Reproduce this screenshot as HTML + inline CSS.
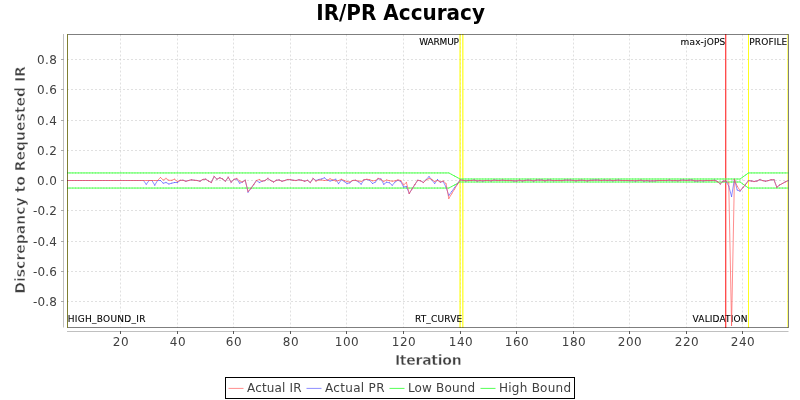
<!DOCTYPE html>
<html><head><meta charset="utf-8"><title>IR/PR Accuracy</title>
<style>
html,body{margin:0;padding:0;background:#fff;}
body{width:800px;height:400px;overflow:hidden;}
svg{display:block;font-family:"DejaVu Sans","Liberation Sans",sans-serif;}
.t{font-size:12px;fill:#404040;}
.m{font-size:9px;fill:#000;stroke:#000;stroke-width:.1px;}
.a{font-size:14px;font-weight:bold;fill:#404040;stroke:#fff;stroke-width:.4px;}
</style></head><body>
<svg width="800" height="400" viewBox="0 0 800 400">
<rect width="800" height="400" fill="#fff"/>
<text transform="translate(400.6 20) scale(1 1.07)" text-anchor="middle" font-size="20" font-weight="bold" fill="#000">IR/PR Accuracy</text>
<line x1="63.5" y1="34" x2="63.5" y2="327.5" stroke="#808080" stroke-width="0.5"/>
<line x1="67" y1="331.5" x2="788.5" y2="331.5" stroke="#808080" stroke-width="0.5"/>
<g stroke="#c0c0c0" stroke-width="0.5" stroke-dasharray="2 2">
<line x1="120.5" y1="34.5" x2="120.5" y2="327.5"/>
<line x1="177.5" y1="34.5" x2="177.5" y2="327.5"/>
<line x1="233.5" y1="34.5" x2="233.5" y2="327.5"/>
<line x1="290.5" y1="34.5" x2="290.5" y2="327.5"/>
<line x1="346.5" y1="34.5" x2="346.5" y2="327.5"/>
<line x1="403.5" y1="34.5" x2="403.5" y2="327.5"/>
<line x1="460.5" y1="34.5" x2="460.5" y2="327.5"/>
<line x1="516.5" y1="34.5" x2="516.5" y2="327.5"/>
<line x1="573.5" y1="34.5" x2="573.5" y2="327.5"/>
<line x1="629.5" y1="34.5" x2="629.5" y2="327.5"/>
<line x1="686.5" y1="34.5" x2="686.5" y2="327.5"/>
<line x1="742.5" y1="34.5" x2="742.5" y2="327.5"/>
<line x1="67" y1="59.5" x2="788" y2="59.5"/>
<line x1="67" y1="89.5" x2="788" y2="89.5"/>
<line x1="67" y1="120.5" x2="788" y2="120.5"/>
<line x1="67" y1="150.5" x2="788" y2="150.5"/>
<line x1="67" y1="180.5" x2="788" y2="180.5"/>
<line x1="67" y1="210.5" x2="788" y2="210.5"/>
<line x1="67" y1="241.5" x2="788" y2="241.5"/>
<line x1="67" y1="271.5" x2="788" y2="271.5"/>
<line x1="67" y1="301.5" x2="788" y2="301.5"/>
</g>
<g stroke="#5a5a5a" stroke-width="1">
<line x1="120.5" y1="331" x2="120.5" y2="334"/>
<line x1="177.5" y1="331" x2="177.5" y2="334"/>
<line x1="233.5" y1="331" x2="233.5" y2="334"/>
<line x1="290.5" y1="331" x2="290.5" y2="334"/>
<line x1="346.5" y1="331" x2="346.5" y2="334"/>
<line x1="403.5" y1="331" x2="403.5" y2="334"/>
<line x1="460.5" y1="331" x2="460.5" y2="334"/>
<line x1="516.5" y1="331" x2="516.5" y2="334"/>
<line x1="573.5" y1="331" x2="573.5" y2="334"/>
<line x1="629.5" y1="331" x2="629.5" y2="334"/>
<line x1="686.5" y1="331" x2="686.5" y2="334"/>
<line x1="742.5" y1="331" x2="742.5" y2="334"/>
<line x1="61" y1="59.5" x2="63.5" y2="59.5" stroke-width="0.5"/>
<line x1="61" y1="89.5" x2="63.5" y2="89.5" stroke-width="0.5"/>
<line x1="61" y1="120.5" x2="63.5" y2="120.5" stroke-width="0.5"/>
<line x1="61" y1="150.5" x2="63.5" y2="150.5" stroke-width="0.5"/>
<line x1="61" y1="180.5" x2="63.5" y2="180.5" stroke-width="0.5"/>
<line x1="61" y1="210.5" x2="63.5" y2="210.5" stroke-width="0.5"/>
<line x1="61" y1="241.5" x2="63.5" y2="241.5" stroke-width="0.5"/>
<line x1="61" y1="271.5" x2="63.5" y2="271.5" stroke-width="0.5"/>
<line x1="61" y1="301.5" x2="63.5" y2="301.5" stroke-width="0.5"/>
</g>
<text class="t" x="120.7" y="346" text-anchor="middle" textLength="16">20</text>
<text class="t" x="177.7" y="346" text-anchor="middle" textLength="16">40</text>
<text class="t" x="233.7" y="346" text-anchor="middle" textLength="16">60</text>
<text class="t" x="290.7" y="346" text-anchor="middle" textLength="16">80</text>
<text class="t" x="346.7" y="346" text-anchor="middle" textLength="24">100</text>
<text class="t" x="403.7" y="346" text-anchor="middle" textLength="24">120</text>
<text class="t" x="460.7" y="346" text-anchor="middle" textLength="24">140</text>
<text class="t" x="516.7" y="346" text-anchor="middle" textLength="24">160</text>
<text class="t" x="573.7" y="346" text-anchor="middle" textLength="24">180</text>
<text class="t" x="629.7" y="346" text-anchor="middle" textLength="24">200</text>
<text class="t" x="686.7" y="346" text-anchor="middle" textLength="24">220</text>
<text class="t" x="742.7" y="346" text-anchor="middle" textLength="24">240</text>
<text class="t" x="57" y="64.0" text-anchor="end" textLength="20">0.8</text>
<text class="t" x="57" y="94.0" text-anchor="end" textLength="20">0.6</text>
<text class="t" x="57" y="125.0" text-anchor="end" textLength="20">0.4</text>
<text class="t" x="57" y="155.0" text-anchor="end" textLength="20">0.2</text>
<text class="t" x="57" y="185.0" text-anchor="end" textLength="20">0.0</text>
<text class="t" x="57" y="215.0" text-anchor="end" textLength="24">-0.2</text>
<text class="t" x="57" y="246.0" text-anchor="end" textLength="24">-0.4</text>
<text class="t" x="57" y="276.0" text-anchor="end" textLength="24">-0.6</text>
<text class="t" x="57" y="306.0" text-anchor="end" textLength="24">-0.8</text>
<text class="a" x="428.3" y="365" text-anchor="middle" textLength="66.8">Iteration</text>
<text class="a" style="stroke-width:.5px" transform="translate(24.75 179.9) rotate(-90)" text-anchor="middle">Discrepancy to Requested IR</text>
<g fill="#ffff00">
<rect x="67" y="34" width="1" height="294" opacity="0.6"/>
<rect x="459" y="34" width="1" height="294" opacity="0.5"/>
<rect x="460" y="34" width="1" height="294" opacity="0.6"/>
<rect x="462" y="34" width="1" height="294" opacity="0.7"/>
<rect x="463" y="34" width="1" height="294" opacity="0.4"/>
<rect x="748" y="34" width="1" height="294" opacity="0.88"/>
<rect x="787" y="34" width="1" height="294" opacity="0.53"/>
</g>
<text class="m" x="67.7" y="321.6" textLength="77.8">HIGH_BOUND_IR</text>
<text class="m" x="459" y="44.5" text-anchor="end" textLength="39.7">WARMUP</text>
<text class="m" x="462.3" y="321.6" text-anchor="end" textLength="47.4">RT_CURVE</text>
<text class="m" x="747.5" y="321.6" text-anchor="end" textLength="54.9">VALIDATION</text>
<text class="m" x="787.3" y="44.6" text-anchor="end" textLength="38">PROFILE</text>
<text class="m" x="725.3" y="44.6" text-anchor="end" textLength="44.8">max-jOPS</text>
<rect x="725" y="34" width="1" height="294" fill="#ff0000" opacity="0.7"/>
<rect x="726" y="34" width="1" height="294" fill="#ff0000" opacity="0.25"/>
<clipPath id="c"><rect x="67" y="34" width="721.5" height="293.5"/></clipPath>
<g clip-path="url(#c)" stroke-width="1" stroke-linecap="square" fill="none">
<g stroke="#55ff55">
<line x1="67.10" y1="172.94" x2="69.93" y2="172.94"/>
<line x1="69.93" y1="172.94" x2="72.75" y2="172.94"/>
<line x1="72.75" y1="172.94" x2="75.58" y2="172.94"/>
<line x1="75.58" y1="172.94" x2="78.41" y2="172.94"/>
<line x1="78.41" y1="172.94" x2="81.24" y2="172.94"/>
<line x1="81.24" y1="172.94" x2="84.06" y2="172.94"/>
<line x1="84.06" y1="172.94" x2="86.89" y2="172.94"/>
<line x1="86.89" y1="172.94" x2="89.72" y2="172.94"/>
<line x1="89.72" y1="172.94" x2="92.55" y2="172.94"/>
<line x1="92.55" y1="172.94" x2="95.38" y2="172.94"/>
<line x1="95.38" y1="172.94" x2="98.20" y2="172.94"/>
<line x1="98.20" y1="172.94" x2="101.03" y2="172.94"/>
<line x1="101.03" y1="172.94" x2="103.86" y2="172.94"/>
<line x1="103.86" y1="172.94" x2="106.69" y2="172.94"/>
<line x1="106.69" y1="172.94" x2="109.51" y2="172.94"/>
<line x1="109.51" y1="172.94" x2="112.34" y2="172.94"/>
<line x1="112.34" y1="172.94" x2="115.17" y2="172.94"/>
<line x1="115.17" y1="172.94" x2="118.00" y2="172.94"/>
<line x1="118.00" y1="172.94" x2="120.82" y2="172.94"/>
<line x1="120.82" y1="172.94" x2="123.65" y2="172.94"/>
<line x1="123.65" y1="172.94" x2="126.48" y2="172.94"/>
<line x1="126.48" y1="172.94" x2="129.31" y2="172.94"/>
<line x1="129.31" y1="172.94" x2="132.13" y2="172.94"/>
<line x1="132.13" y1="172.94" x2="134.96" y2="172.94"/>
<line x1="134.96" y1="172.94" x2="137.79" y2="172.94"/>
<line x1="137.79" y1="172.94" x2="140.62" y2="172.94"/>
<line x1="140.62" y1="172.94" x2="143.44" y2="172.94"/>
<line x1="143.44" y1="172.94" x2="146.27" y2="172.94"/>
<line x1="146.27" y1="172.94" x2="149.10" y2="172.94"/>
<line x1="149.10" y1="172.94" x2="151.93" y2="172.94"/>
<line x1="151.93" y1="172.94" x2="154.75" y2="172.94"/>
<line x1="154.75" y1="172.94" x2="157.58" y2="172.94"/>
<line x1="157.58" y1="172.94" x2="160.41" y2="172.94"/>
<line x1="160.41" y1="172.94" x2="163.24" y2="172.94"/>
<line x1="163.24" y1="172.94" x2="166.06" y2="172.94"/>
<line x1="166.06" y1="172.94" x2="168.89" y2="172.94"/>
<line x1="168.89" y1="172.94" x2="171.72" y2="172.94"/>
<line x1="171.72" y1="172.94" x2="174.55" y2="172.94"/>
<line x1="174.55" y1="172.94" x2="177.37" y2="172.94"/>
<line x1="177.37" y1="172.94" x2="180.20" y2="172.94"/>
<line x1="180.20" y1="172.94" x2="183.03" y2="172.94"/>
<line x1="183.03" y1="172.94" x2="185.86" y2="172.94"/>
<line x1="185.86" y1="172.94" x2="188.68" y2="172.94"/>
<line x1="188.68" y1="172.94" x2="191.51" y2="172.94"/>
<line x1="191.51" y1="172.94" x2="194.34" y2="172.94"/>
<line x1="194.34" y1="172.94" x2="197.16" y2="172.94"/>
<line x1="197.16" y1="172.94" x2="199.99" y2="172.94"/>
<line x1="199.99" y1="172.94" x2="202.82" y2="172.94"/>
<line x1="202.82" y1="172.94" x2="205.65" y2="172.94"/>
<line x1="205.65" y1="172.94" x2="208.47" y2="172.94"/>
<line x1="208.47" y1="172.94" x2="211.30" y2="172.94"/>
<line x1="211.30" y1="172.94" x2="214.13" y2="172.94"/>
<line x1="214.13" y1="172.94" x2="216.96" y2="172.94"/>
<line x1="216.96" y1="172.94" x2="219.78" y2="172.94"/>
<line x1="219.78" y1="172.94" x2="222.61" y2="172.94"/>
<line x1="222.61" y1="172.94" x2="225.44" y2="172.94"/>
<line x1="225.44" y1="172.94" x2="228.27" y2="172.94"/>
<line x1="228.27" y1="172.94" x2="231.09" y2="172.94"/>
<line x1="231.09" y1="172.94" x2="233.92" y2="172.94"/>
<line x1="233.92" y1="172.94" x2="236.75" y2="172.94"/>
<line x1="236.75" y1="172.94" x2="239.58" y2="172.94"/>
<line x1="239.58" y1="172.94" x2="242.41" y2="172.94"/>
<line x1="242.41" y1="172.94" x2="245.23" y2="172.94"/>
<line x1="245.23" y1="172.94" x2="248.06" y2="172.94"/>
<line x1="248.06" y1="172.94" x2="250.89" y2="172.94"/>
<line x1="250.89" y1="172.94" x2="253.72" y2="172.94"/>
<line x1="253.72" y1="172.94" x2="256.54" y2="172.94"/>
<line x1="256.54" y1="172.94" x2="259.37" y2="172.94"/>
<line x1="259.37" y1="172.94" x2="262.20" y2="172.94"/>
<line x1="262.20" y1="172.94" x2="265.02" y2="172.94"/>
<line x1="265.02" y1="172.94" x2="267.85" y2="172.94"/>
<line x1="267.85" y1="172.94" x2="270.68" y2="172.94"/>
<line x1="270.68" y1="172.94" x2="273.51" y2="172.94"/>
<line x1="273.51" y1="172.94" x2="276.34" y2="172.94"/>
<line x1="276.34" y1="172.94" x2="279.16" y2="172.94"/>
<line x1="279.16" y1="172.94" x2="281.99" y2="172.94"/>
<line x1="281.99" y1="172.94" x2="284.82" y2="172.94"/>
<line x1="284.82" y1="172.94" x2="287.64" y2="172.94"/>
<line x1="287.64" y1="172.94" x2="290.47" y2="172.94"/>
<line x1="290.47" y1="172.94" x2="293.30" y2="172.94"/>
<line x1="293.30" y1="172.94" x2="296.13" y2="172.94"/>
<line x1="296.13" y1="172.94" x2="298.96" y2="172.94"/>
<line x1="298.96" y1="172.94" x2="301.78" y2="172.94"/>
<line x1="301.78" y1="172.94" x2="304.61" y2="172.94"/>
<line x1="304.61" y1="172.94" x2="307.44" y2="172.94"/>
<line x1="307.44" y1="172.94" x2="310.26" y2="172.94"/>
<line x1="310.26" y1="172.94" x2="313.09" y2="172.94"/>
<line x1="313.09" y1="172.94" x2="315.92" y2="172.94"/>
<line x1="315.92" y1="172.94" x2="318.75" y2="172.94"/>
<line x1="318.75" y1="172.94" x2="321.58" y2="172.94"/>
<line x1="321.58" y1="172.94" x2="324.40" y2="172.94"/>
<line x1="324.40" y1="172.94" x2="327.23" y2="172.94"/>
<line x1="327.23" y1="172.94" x2="330.06" y2="172.94"/>
<line x1="330.06" y1="172.94" x2="332.88" y2="172.94"/>
<line x1="332.88" y1="172.94" x2="335.71" y2="172.94"/>
<line x1="335.71" y1="172.94" x2="338.54" y2="172.94"/>
<line x1="338.54" y1="172.94" x2="341.37" y2="172.94"/>
<line x1="341.37" y1="172.94" x2="344.20" y2="172.94"/>
<line x1="344.20" y1="172.94" x2="347.02" y2="172.94"/>
<line x1="347.02" y1="172.94" x2="349.85" y2="172.94"/>
<line x1="349.85" y1="172.94" x2="352.68" y2="172.94"/>
<line x1="352.68" y1="172.94" x2="355.50" y2="172.94"/>
<line x1="355.50" y1="172.94" x2="358.33" y2="172.94"/>
<line x1="358.33" y1="172.94" x2="361.16" y2="172.94"/>
<line x1="361.16" y1="172.94" x2="363.99" y2="172.94"/>
<line x1="363.99" y1="172.94" x2="366.82" y2="172.94"/>
<line x1="366.82" y1="172.94" x2="369.64" y2="172.94"/>
<line x1="369.64" y1="172.94" x2="372.47" y2="172.94"/>
<line x1="372.47" y1="172.94" x2="375.30" y2="172.94"/>
<line x1="375.30" y1="172.94" x2="378.12" y2="172.94"/>
<line x1="378.12" y1="172.94" x2="380.95" y2="172.94"/>
<line x1="380.95" y1="172.94" x2="383.78" y2="172.94"/>
<line x1="383.78" y1="172.94" x2="386.61" y2="172.94"/>
<line x1="386.61" y1="172.94" x2="389.44" y2="172.94"/>
<line x1="389.44" y1="172.94" x2="392.26" y2="172.94"/>
<line x1="392.26" y1="172.94" x2="395.09" y2="172.94"/>
<line x1="395.09" y1="172.94" x2="397.92" y2="172.94"/>
<line x1="397.92" y1="172.94" x2="400.75" y2="172.94"/>
<line x1="400.75" y1="172.94" x2="403.57" y2="172.94"/>
<line x1="403.57" y1="172.94" x2="406.40" y2="172.94"/>
<line x1="406.40" y1="172.94" x2="409.23" y2="172.94"/>
<line x1="409.23" y1="172.94" x2="412.06" y2="172.94"/>
<line x1="412.06" y1="172.94" x2="414.88" y2="172.94"/>
<line x1="414.88" y1="172.94" x2="417.71" y2="172.94"/>
<line x1="417.71" y1="172.94" x2="420.54" y2="172.94"/>
<line x1="420.54" y1="172.94" x2="423.37" y2="172.94"/>
<line x1="423.37" y1="172.94" x2="426.19" y2="172.94"/>
<line x1="426.19" y1="172.94" x2="429.02" y2="172.94"/>
<line x1="429.02" y1="172.94" x2="431.85" y2="172.94"/>
<line x1="431.85" y1="172.94" x2="434.67" y2="172.94"/>
<line x1="434.67" y1="172.94" x2="437.50" y2="172.94"/>
<line x1="437.50" y1="172.94" x2="440.33" y2="172.94"/>
<line x1="440.33" y1="172.94" x2="443.16" y2="172.94"/>
<line x1="443.16" y1="172.94" x2="445.99" y2="172.94"/>
<line x1="445.99" y1="172.94" x2="448.81" y2="172.94"/>
<line x1="448.81" y1="172.94" x2="451.64" y2="174.46"/>
<line x1="451.64" y1="174.46" x2="454.47" y2="175.97"/>
<line x1="454.47" y1="175.97" x2="457.29" y2="177.49"/>
<line x1="457.29" y1="177.49" x2="460.12" y2="179.00"/>
<line x1="460.12" y1="179.00" x2="462.95" y2="179.00"/>
<line x1="462.95" y1="179.00" x2="465.78" y2="179.00"/>
<line x1="465.78" y1="179.00" x2="468.61" y2="179.00"/>
<line x1="468.61" y1="179.00" x2="471.43" y2="179.00"/>
<line x1="471.43" y1="179.00" x2="474.26" y2="179.00"/>
<line x1="474.26" y1="179.00" x2="477.09" y2="179.00"/>
<line x1="477.09" y1="179.00" x2="479.91" y2="179.00"/>
<line x1="479.91" y1="179.00" x2="482.74" y2="179.00"/>
<line x1="482.74" y1="179.00" x2="485.57" y2="179.00"/>
<line x1="485.57" y1="179.00" x2="488.40" y2="179.00"/>
<line x1="488.40" y1="179.00" x2="491.23" y2="179.00"/>
<line x1="491.23" y1="179.00" x2="494.05" y2="179.00"/>
<line x1="494.05" y1="179.00" x2="496.88" y2="179.00"/>
<line x1="496.88" y1="179.00" x2="499.71" y2="179.00"/>
<line x1="499.71" y1="179.00" x2="502.53" y2="179.00"/>
<line x1="502.53" y1="179.00" x2="505.36" y2="179.00"/>
<line x1="505.36" y1="179.00" x2="508.19" y2="179.00"/>
<line x1="508.19" y1="179.00" x2="511.02" y2="179.00"/>
<line x1="511.02" y1="179.00" x2="513.85" y2="179.00"/>
<line x1="513.85" y1="179.00" x2="516.67" y2="179.00"/>
<line x1="516.67" y1="179.00" x2="519.50" y2="179.00"/>
<line x1="519.50" y1="179.00" x2="522.33" y2="179.00"/>
<line x1="522.33" y1="179.00" x2="525.15" y2="179.00"/>
<line x1="525.15" y1="179.00" x2="527.98" y2="179.00"/>
<line x1="527.98" y1="179.00" x2="530.81" y2="179.00"/>
<line x1="530.81" y1="179.00" x2="533.64" y2="179.00"/>
<line x1="533.64" y1="179.00" x2="536.47" y2="179.00"/>
<line x1="536.47" y1="179.00" x2="539.29" y2="179.00"/>
<line x1="539.29" y1="179.00" x2="542.12" y2="179.00"/>
<line x1="542.12" y1="179.00" x2="544.95" y2="179.00"/>
<line x1="544.95" y1="179.00" x2="547.77" y2="179.00"/>
<line x1="547.77" y1="179.00" x2="550.60" y2="179.00"/>
<line x1="550.60" y1="179.00" x2="553.43" y2="179.00"/>
<line x1="553.43" y1="179.00" x2="556.26" y2="179.00"/>
<line x1="556.26" y1="179.00" x2="559.09" y2="179.00"/>
<line x1="559.09" y1="179.00" x2="561.91" y2="179.00"/>
<line x1="561.91" y1="179.00" x2="564.74" y2="179.00"/>
<line x1="564.74" y1="179.00" x2="567.57" y2="179.00"/>
<line x1="567.57" y1="179.00" x2="570.39" y2="179.00"/>
<line x1="570.39" y1="179.00" x2="573.22" y2="179.00"/>
<line x1="573.22" y1="179.00" x2="576.05" y2="179.00"/>
<line x1="576.05" y1="179.00" x2="578.88" y2="179.00"/>
<line x1="578.88" y1="179.00" x2="581.71" y2="179.00"/>
<line x1="581.71" y1="179.00" x2="584.53" y2="179.00"/>
<line x1="584.53" y1="179.00" x2="587.36" y2="179.00"/>
<line x1="587.36" y1="179.00" x2="590.19" y2="179.00"/>
<line x1="590.19" y1="179.00" x2="593.02" y2="179.00"/>
<line x1="593.02" y1="179.00" x2="595.84" y2="179.00"/>
<line x1="595.84" y1="179.00" x2="598.67" y2="179.00"/>
<line x1="598.67" y1="179.00" x2="601.50" y2="179.00"/>
<line x1="601.50" y1="179.00" x2="604.33" y2="179.00"/>
<line x1="604.33" y1="179.00" x2="607.15" y2="179.00"/>
<line x1="607.15" y1="179.00" x2="609.98" y2="179.00"/>
<line x1="609.98" y1="179.00" x2="612.81" y2="179.00"/>
<line x1="612.81" y1="179.00" x2="615.63" y2="179.00"/>
<line x1="615.63" y1="179.00" x2="618.46" y2="179.00"/>
<line x1="618.46" y1="179.00" x2="621.29" y2="179.00"/>
<line x1="621.29" y1="179.00" x2="624.12" y2="179.00"/>
<line x1="624.12" y1="179.00" x2="626.95" y2="179.00"/>
<line x1="626.95" y1="179.00" x2="629.77" y2="179.00"/>
<line x1="629.77" y1="179.00" x2="632.60" y2="179.00"/>
<line x1="632.60" y1="179.00" x2="635.43" y2="179.00"/>
<line x1="635.43" y1="179.00" x2="638.25" y2="179.00"/>
<line x1="638.25" y1="179.00" x2="641.08" y2="179.00"/>
<line x1="641.08" y1="179.00" x2="643.91" y2="179.00"/>
<line x1="643.91" y1="179.00" x2="646.74" y2="179.00"/>
<line x1="646.74" y1="179.00" x2="649.57" y2="179.00"/>
<line x1="649.57" y1="179.00" x2="652.39" y2="179.00"/>
<line x1="652.39" y1="179.00" x2="655.22" y2="179.00"/>
<line x1="655.22" y1="179.00" x2="658.05" y2="179.00"/>
<line x1="658.05" y1="179.00" x2="660.88" y2="179.00"/>
<line x1="660.88" y1="179.00" x2="663.70" y2="179.00"/>
<line x1="663.70" y1="179.00" x2="666.53" y2="179.00"/>
<line x1="666.53" y1="179.00" x2="669.36" y2="179.00"/>
<line x1="669.36" y1="179.00" x2="672.19" y2="179.00"/>
<line x1="672.19" y1="179.00" x2="675.01" y2="179.00"/>
<line x1="675.01" y1="179.00" x2="677.84" y2="179.00"/>
<line x1="677.84" y1="179.00" x2="680.67" y2="179.00"/>
<line x1="680.67" y1="179.00" x2="683.50" y2="179.00"/>
<line x1="683.50" y1="179.00" x2="686.32" y2="179.00"/>
<line x1="686.32" y1="179.00" x2="689.15" y2="179.00"/>
<line x1="689.15" y1="179.00" x2="691.98" y2="179.00"/>
<line x1="691.98" y1="179.00" x2="694.81" y2="179.00"/>
<line x1="694.81" y1="179.00" x2="697.63" y2="179.00"/>
<line x1="697.63" y1="179.00" x2="700.46" y2="179.00"/>
<line x1="700.46" y1="179.00" x2="703.29" y2="179.00"/>
<line x1="703.29" y1="179.00" x2="706.12" y2="179.00"/>
<line x1="706.12" y1="179.00" x2="708.94" y2="179.00"/>
<line x1="708.94" y1="179.00" x2="711.77" y2="179.00"/>
<line x1="711.77" y1="179.00" x2="714.60" y2="179.00"/>
<line x1="714.60" y1="179.00" x2="717.43" y2="179.00"/>
<line x1="717.43" y1="179.00" x2="720.25" y2="179.00"/>
<line x1="720.25" y1="179.00" x2="723.08" y2="179.00"/>
<line x1="723.08" y1="179.00" x2="725.91" y2="179.00"/>
<line x1="725.91" y1="179.00" x2="728.74" y2="179.00"/>
<line x1="728.74" y1="179.00" x2="731.56" y2="179.00"/>
<line x1="731.56" y1="179.00" x2="734.39" y2="179.00"/>
<line x1="734.39" y1="179.00" x2="737.22" y2="179.00"/>
<line x1="737.22" y1="179.00" x2="740.05" y2="179.00"/>
<line x1="740.05" y1="179.00" x2="742.87" y2="176.98"/>
<line x1="742.87" y1="176.98" x2="745.70" y2="174.96"/>
<line x1="745.70" y1="174.96" x2="748.53" y2="172.94"/>
<line x1="748.53" y1="172.94" x2="751.36" y2="172.94"/>
<line x1="751.36" y1="172.94" x2="754.18" y2="172.94"/>
<line x1="754.18" y1="172.94" x2="757.01" y2="172.94"/>
<line x1="757.01" y1="172.94" x2="759.84" y2="172.94"/>
<line x1="759.84" y1="172.94" x2="762.67" y2="172.94"/>
<line x1="762.67" y1="172.94" x2="765.49" y2="172.94"/>
<line x1="765.49" y1="172.94" x2="768.32" y2="172.94"/>
<line x1="768.32" y1="172.94" x2="771.15" y2="172.94"/>
<line x1="771.15" y1="172.94" x2="773.98" y2="172.94"/>
<line x1="773.98" y1="172.94" x2="776.80" y2="172.94"/>
<line x1="776.80" y1="172.94" x2="779.63" y2="172.94"/>
<line x1="779.63" y1="172.94" x2="782.46" y2="172.94"/>
<line x1="782.46" y1="172.94" x2="785.29" y2="172.94"/>
<line x1="785.29" y1="172.94" x2="788.11" y2="172.94"/>
</g>
<g stroke="#55ff55">
<line x1="67.10" y1="188.06" x2="69.93" y2="188.06"/>
<line x1="69.93" y1="188.06" x2="72.75" y2="188.06"/>
<line x1="72.75" y1="188.06" x2="75.58" y2="188.06"/>
<line x1="75.58" y1="188.06" x2="78.41" y2="188.06"/>
<line x1="78.41" y1="188.06" x2="81.24" y2="188.06"/>
<line x1="81.24" y1="188.06" x2="84.06" y2="188.06"/>
<line x1="84.06" y1="188.06" x2="86.89" y2="188.06"/>
<line x1="86.89" y1="188.06" x2="89.72" y2="188.06"/>
<line x1="89.72" y1="188.06" x2="92.55" y2="188.06"/>
<line x1="92.55" y1="188.06" x2="95.38" y2="188.06"/>
<line x1="95.38" y1="188.06" x2="98.20" y2="188.06"/>
<line x1="98.20" y1="188.06" x2="101.03" y2="188.06"/>
<line x1="101.03" y1="188.06" x2="103.86" y2="188.06"/>
<line x1="103.86" y1="188.06" x2="106.69" y2="188.06"/>
<line x1="106.69" y1="188.06" x2="109.51" y2="188.06"/>
<line x1="109.51" y1="188.06" x2="112.34" y2="188.06"/>
<line x1="112.34" y1="188.06" x2="115.17" y2="188.06"/>
<line x1="115.17" y1="188.06" x2="118.00" y2="188.06"/>
<line x1="118.00" y1="188.06" x2="120.82" y2="188.06"/>
<line x1="120.82" y1="188.06" x2="123.65" y2="188.06"/>
<line x1="123.65" y1="188.06" x2="126.48" y2="188.06"/>
<line x1="126.48" y1="188.06" x2="129.31" y2="188.06"/>
<line x1="129.31" y1="188.06" x2="132.13" y2="188.06"/>
<line x1="132.13" y1="188.06" x2="134.96" y2="188.06"/>
<line x1="134.96" y1="188.06" x2="137.79" y2="188.06"/>
<line x1="137.79" y1="188.06" x2="140.62" y2="188.06"/>
<line x1="140.62" y1="188.06" x2="143.44" y2="188.06"/>
<line x1="143.44" y1="188.06" x2="146.27" y2="188.06"/>
<line x1="146.27" y1="188.06" x2="149.10" y2="188.06"/>
<line x1="149.10" y1="188.06" x2="151.93" y2="188.06"/>
<line x1="151.93" y1="188.06" x2="154.75" y2="188.06"/>
<line x1="154.75" y1="188.06" x2="157.58" y2="188.06"/>
<line x1="157.58" y1="188.06" x2="160.41" y2="188.06"/>
<line x1="160.41" y1="188.06" x2="163.24" y2="188.06"/>
<line x1="163.24" y1="188.06" x2="166.06" y2="188.06"/>
<line x1="166.06" y1="188.06" x2="168.89" y2="188.06"/>
<line x1="168.89" y1="188.06" x2="171.72" y2="188.06"/>
<line x1="171.72" y1="188.06" x2="174.55" y2="188.06"/>
<line x1="174.55" y1="188.06" x2="177.37" y2="188.06"/>
<line x1="177.37" y1="188.06" x2="180.20" y2="188.06"/>
<line x1="180.20" y1="188.06" x2="183.03" y2="188.06"/>
<line x1="183.03" y1="188.06" x2="185.86" y2="188.06"/>
<line x1="185.86" y1="188.06" x2="188.68" y2="188.06"/>
<line x1="188.68" y1="188.06" x2="191.51" y2="188.06"/>
<line x1="191.51" y1="188.06" x2="194.34" y2="188.06"/>
<line x1="194.34" y1="188.06" x2="197.16" y2="188.06"/>
<line x1="197.16" y1="188.06" x2="199.99" y2="188.06"/>
<line x1="199.99" y1="188.06" x2="202.82" y2="188.06"/>
<line x1="202.82" y1="188.06" x2="205.65" y2="188.06"/>
<line x1="205.65" y1="188.06" x2="208.47" y2="188.06"/>
<line x1="208.47" y1="188.06" x2="211.30" y2="188.06"/>
<line x1="211.30" y1="188.06" x2="214.13" y2="188.06"/>
<line x1="214.13" y1="188.06" x2="216.96" y2="188.06"/>
<line x1="216.96" y1="188.06" x2="219.78" y2="188.06"/>
<line x1="219.78" y1="188.06" x2="222.61" y2="188.06"/>
<line x1="222.61" y1="188.06" x2="225.44" y2="188.06"/>
<line x1="225.44" y1="188.06" x2="228.27" y2="188.06"/>
<line x1="228.27" y1="188.06" x2="231.09" y2="188.06"/>
<line x1="231.09" y1="188.06" x2="233.92" y2="188.06"/>
<line x1="233.92" y1="188.06" x2="236.75" y2="188.06"/>
<line x1="236.75" y1="188.06" x2="239.58" y2="188.06"/>
<line x1="239.58" y1="188.06" x2="242.41" y2="188.06"/>
<line x1="242.41" y1="188.06" x2="245.23" y2="188.06"/>
<line x1="245.23" y1="188.06" x2="248.06" y2="188.06"/>
<line x1="248.06" y1="188.06" x2="250.89" y2="188.06"/>
<line x1="250.89" y1="188.06" x2="253.72" y2="188.06"/>
<line x1="253.72" y1="188.06" x2="256.54" y2="188.06"/>
<line x1="256.54" y1="188.06" x2="259.37" y2="188.06"/>
<line x1="259.37" y1="188.06" x2="262.20" y2="188.06"/>
<line x1="262.20" y1="188.06" x2="265.02" y2="188.06"/>
<line x1="265.02" y1="188.06" x2="267.85" y2="188.06"/>
<line x1="267.85" y1="188.06" x2="270.68" y2="188.06"/>
<line x1="270.68" y1="188.06" x2="273.51" y2="188.06"/>
<line x1="273.51" y1="188.06" x2="276.34" y2="188.06"/>
<line x1="276.34" y1="188.06" x2="279.16" y2="188.06"/>
<line x1="279.16" y1="188.06" x2="281.99" y2="188.06"/>
<line x1="281.99" y1="188.06" x2="284.82" y2="188.06"/>
<line x1="284.82" y1="188.06" x2="287.64" y2="188.06"/>
<line x1="287.64" y1="188.06" x2="290.47" y2="188.06"/>
<line x1="290.47" y1="188.06" x2="293.30" y2="188.06"/>
<line x1="293.30" y1="188.06" x2="296.13" y2="188.06"/>
<line x1="296.13" y1="188.06" x2="298.96" y2="188.06"/>
<line x1="298.96" y1="188.06" x2="301.78" y2="188.06"/>
<line x1="301.78" y1="188.06" x2="304.61" y2="188.06"/>
<line x1="304.61" y1="188.06" x2="307.44" y2="188.06"/>
<line x1="307.44" y1="188.06" x2="310.26" y2="188.06"/>
<line x1="310.26" y1="188.06" x2="313.09" y2="188.06"/>
<line x1="313.09" y1="188.06" x2="315.92" y2="188.06"/>
<line x1="315.92" y1="188.06" x2="318.75" y2="188.06"/>
<line x1="318.75" y1="188.06" x2="321.58" y2="188.06"/>
<line x1="321.58" y1="188.06" x2="324.40" y2="188.06"/>
<line x1="324.40" y1="188.06" x2="327.23" y2="188.06"/>
<line x1="327.23" y1="188.06" x2="330.06" y2="188.06"/>
<line x1="330.06" y1="188.06" x2="332.88" y2="188.06"/>
<line x1="332.88" y1="188.06" x2="335.71" y2="188.06"/>
<line x1="335.71" y1="188.06" x2="338.54" y2="188.06"/>
<line x1="338.54" y1="188.06" x2="341.37" y2="188.06"/>
<line x1="341.37" y1="188.06" x2="344.20" y2="188.06"/>
<line x1="344.20" y1="188.06" x2="347.02" y2="188.06"/>
<line x1="347.02" y1="188.06" x2="349.85" y2="188.06"/>
<line x1="349.85" y1="188.06" x2="352.68" y2="188.06"/>
<line x1="352.68" y1="188.06" x2="355.50" y2="188.06"/>
<line x1="355.50" y1="188.06" x2="358.33" y2="188.06"/>
<line x1="358.33" y1="188.06" x2="361.16" y2="188.06"/>
<line x1="361.16" y1="188.06" x2="363.99" y2="188.06"/>
<line x1="363.99" y1="188.06" x2="366.82" y2="188.06"/>
<line x1="366.82" y1="188.06" x2="369.64" y2="188.06"/>
<line x1="369.64" y1="188.06" x2="372.47" y2="188.06"/>
<line x1="372.47" y1="188.06" x2="375.30" y2="188.06"/>
<line x1="375.30" y1="188.06" x2="378.12" y2="188.06"/>
<line x1="378.12" y1="188.06" x2="380.95" y2="188.06"/>
<line x1="380.95" y1="188.06" x2="383.78" y2="188.06"/>
<line x1="383.78" y1="188.06" x2="386.61" y2="188.06"/>
<line x1="386.61" y1="188.06" x2="389.44" y2="188.06"/>
<line x1="389.44" y1="188.06" x2="392.26" y2="188.06"/>
<line x1="392.26" y1="188.06" x2="395.09" y2="188.06"/>
<line x1="395.09" y1="188.06" x2="397.92" y2="188.06"/>
<line x1="397.92" y1="188.06" x2="400.75" y2="188.06"/>
<line x1="400.75" y1="188.06" x2="403.57" y2="188.06"/>
<line x1="403.57" y1="188.06" x2="406.40" y2="188.06"/>
<line x1="406.40" y1="188.06" x2="409.23" y2="188.06"/>
<line x1="409.23" y1="188.06" x2="412.06" y2="188.06"/>
<line x1="412.06" y1="188.06" x2="414.88" y2="188.06"/>
<line x1="414.88" y1="188.06" x2="417.71" y2="188.06"/>
<line x1="417.71" y1="188.06" x2="420.54" y2="188.06"/>
<line x1="420.54" y1="188.06" x2="423.37" y2="188.06"/>
<line x1="423.37" y1="188.06" x2="426.19" y2="188.06"/>
<line x1="426.19" y1="188.06" x2="429.02" y2="188.06"/>
<line x1="429.02" y1="188.06" x2="431.85" y2="188.06"/>
<line x1="431.85" y1="188.06" x2="434.67" y2="188.06"/>
<line x1="434.67" y1="188.06" x2="437.50" y2="188.06"/>
<line x1="437.50" y1="188.06" x2="440.33" y2="188.06"/>
<line x1="440.33" y1="188.06" x2="443.16" y2="188.06"/>
<line x1="443.16" y1="188.06" x2="445.99" y2="188.06"/>
<line x1="445.99" y1="188.06" x2="448.81" y2="188.06"/>
<line x1="448.81" y1="188.06" x2="451.64" y2="186.54"/>
<line x1="451.64" y1="186.54" x2="454.47" y2="185.03"/>
<line x1="454.47" y1="185.03" x2="457.29" y2="183.51"/>
<line x1="457.29" y1="183.51" x2="460.12" y2="182.00"/>
<line x1="460.12" y1="182.00" x2="462.95" y2="182.00"/>
<line x1="462.95" y1="182.00" x2="465.78" y2="182.00"/>
<line x1="465.78" y1="182.00" x2="468.61" y2="182.00"/>
<line x1="468.61" y1="182.00" x2="471.43" y2="182.00"/>
<line x1="471.43" y1="182.00" x2="474.26" y2="182.00"/>
<line x1="474.26" y1="182.00" x2="477.09" y2="182.00"/>
<line x1="477.09" y1="182.00" x2="479.91" y2="182.00"/>
<line x1="479.91" y1="182.00" x2="482.74" y2="182.00"/>
<line x1="482.74" y1="182.00" x2="485.57" y2="182.00"/>
<line x1="485.57" y1="182.00" x2="488.40" y2="182.00"/>
<line x1="488.40" y1="182.00" x2="491.23" y2="182.00"/>
<line x1="491.23" y1="182.00" x2="494.05" y2="182.00"/>
<line x1="494.05" y1="182.00" x2="496.88" y2="182.00"/>
<line x1="496.88" y1="182.00" x2="499.71" y2="182.00"/>
<line x1="499.71" y1="182.00" x2="502.53" y2="182.00"/>
<line x1="502.53" y1="182.00" x2="505.36" y2="182.00"/>
<line x1="505.36" y1="182.00" x2="508.19" y2="182.00"/>
<line x1="508.19" y1="182.00" x2="511.02" y2="182.00"/>
<line x1="511.02" y1="182.00" x2="513.85" y2="182.00"/>
<line x1="513.85" y1="182.00" x2="516.67" y2="182.00"/>
<line x1="516.67" y1="182.00" x2="519.50" y2="182.00"/>
<line x1="519.50" y1="182.00" x2="522.33" y2="182.00"/>
<line x1="522.33" y1="182.00" x2="525.15" y2="182.00"/>
<line x1="525.15" y1="182.00" x2="527.98" y2="182.00"/>
<line x1="527.98" y1="182.00" x2="530.81" y2="182.00"/>
<line x1="530.81" y1="182.00" x2="533.64" y2="182.00"/>
<line x1="533.64" y1="182.00" x2="536.47" y2="182.00"/>
<line x1="536.47" y1="182.00" x2="539.29" y2="182.00"/>
<line x1="539.29" y1="182.00" x2="542.12" y2="182.00"/>
<line x1="542.12" y1="182.00" x2="544.95" y2="182.00"/>
<line x1="544.95" y1="182.00" x2="547.77" y2="182.00"/>
<line x1="547.77" y1="182.00" x2="550.60" y2="182.00"/>
<line x1="550.60" y1="182.00" x2="553.43" y2="182.00"/>
<line x1="553.43" y1="182.00" x2="556.26" y2="182.00"/>
<line x1="556.26" y1="182.00" x2="559.09" y2="182.00"/>
<line x1="559.09" y1="182.00" x2="561.91" y2="182.00"/>
<line x1="561.91" y1="182.00" x2="564.74" y2="182.00"/>
<line x1="564.74" y1="182.00" x2="567.57" y2="182.00"/>
<line x1="567.57" y1="182.00" x2="570.39" y2="182.00"/>
<line x1="570.39" y1="182.00" x2="573.22" y2="182.00"/>
<line x1="573.22" y1="182.00" x2="576.05" y2="182.00"/>
<line x1="576.05" y1="182.00" x2="578.88" y2="182.00"/>
<line x1="578.88" y1="182.00" x2="581.71" y2="182.00"/>
<line x1="581.71" y1="182.00" x2="584.53" y2="182.00"/>
<line x1="584.53" y1="182.00" x2="587.36" y2="182.00"/>
<line x1="587.36" y1="182.00" x2="590.19" y2="182.00"/>
<line x1="590.19" y1="182.00" x2="593.02" y2="182.00"/>
<line x1="593.02" y1="182.00" x2="595.84" y2="182.00"/>
<line x1="595.84" y1="182.00" x2="598.67" y2="182.00"/>
<line x1="598.67" y1="182.00" x2="601.50" y2="182.00"/>
<line x1="601.50" y1="182.00" x2="604.33" y2="182.00"/>
<line x1="604.33" y1="182.00" x2="607.15" y2="182.00"/>
<line x1="607.15" y1="182.00" x2="609.98" y2="182.00"/>
<line x1="609.98" y1="182.00" x2="612.81" y2="182.00"/>
<line x1="612.81" y1="182.00" x2="615.63" y2="182.00"/>
<line x1="615.63" y1="182.00" x2="618.46" y2="182.00"/>
<line x1="618.46" y1="182.00" x2="621.29" y2="182.00"/>
<line x1="621.29" y1="182.00" x2="624.12" y2="182.00"/>
<line x1="624.12" y1="182.00" x2="626.95" y2="182.00"/>
<line x1="626.95" y1="182.00" x2="629.77" y2="182.00"/>
<line x1="629.77" y1="182.00" x2="632.60" y2="182.00"/>
<line x1="632.60" y1="182.00" x2="635.43" y2="182.00"/>
<line x1="635.43" y1="182.00" x2="638.25" y2="182.00"/>
<line x1="638.25" y1="182.00" x2="641.08" y2="182.00"/>
<line x1="641.08" y1="182.00" x2="643.91" y2="182.00"/>
<line x1="643.91" y1="182.00" x2="646.74" y2="182.00"/>
<line x1="646.74" y1="182.00" x2="649.57" y2="182.00"/>
<line x1="649.57" y1="182.00" x2="652.39" y2="182.00"/>
<line x1="652.39" y1="182.00" x2="655.22" y2="182.00"/>
<line x1="655.22" y1="182.00" x2="658.05" y2="182.00"/>
<line x1="658.05" y1="182.00" x2="660.88" y2="182.00"/>
<line x1="660.88" y1="182.00" x2="663.70" y2="182.00"/>
<line x1="663.70" y1="182.00" x2="666.53" y2="182.00"/>
<line x1="666.53" y1="182.00" x2="669.36" y2="182.00"/>
<line x1="669.36" y1="182.00" x2="672.19" y2="182.00"/>
<line x1="672.19" y1="182.00" x2="675.01" y2="182.00"/>
<line x1="675.01" y1="182.00" x2="677.84" y2="182.00"/>
<line x1="677.84" y1="182.00" x2="680.67" y2="182.00"/>
<line x1="680.67" y1="182.00" x2="683.50" y2="182.00"/>
<line x1="683.50" y1="182.00" x2="686.32" y2="182.00"/>
<line x1="686.32" y1="182.00" x2="689.15" y2="182.00"/>
<line x1="689.15" y1="182.00" x2="691.98" y2="182.00"/>
<line x1="691.98" y1="182.00" x2="694.81" y2="182.00"/>
<line x1="694.81" y1="182.00" x2="697.63" y2="182.00"/>
<line x1="697.63" y1="182.00" x2="700.46" y2="182.00"/>
<line x1="700.46" y1="182.00" x2="703.29" y2="182.00"/>
<line x1="703.29" y1="182.00" x2="706.12" y2="182.00"/>
<line x1="706.12" y1="182.00" x2="708.94" y2="182.00"/>
<line x1="708.94" y1="182.00" x2="711.77" y2="182.00"/>
<line x1="711.77" y1="182.00" x2="714.60" y2="182.00"/>
<line x1="714.60" y1="182.00" x2="717.43" y2="182.00"/>
<line x1="717.43" y1="182.00" x2="720.25" y2="182.00"/>
<line x1="720.25" y1="182.00" x2="723.08" y2="182.00"/>
<line x1="723.08" y1="182.00" x2="725.91" y2="182.00"/>
<line x1="725.91" y1="182.00" x2="728.74" y2="182.00"/>
<line x1="728.74" y1="182.00" x2="731.56" y2="182.00"/>
<line x1="731.56" y1="182.00" x2="734.39" y2="182.00"/>
<line x1="734.39" y1="182.00" x2="737.22" y2="182.00"/>
<line x1="737.22" y1="182.00" x2="740.05" y2="182.00"/>
<line x1="740.05" y1="182.00" x2="742.87" y2="184.02"/>
<line x1="742.87" y1="184.02" x2="745.70" y2="186.04"/>
<line x1="745.70" y1="186.04" x2="748.53" y2="188.06"/>
<line x1="748.53" y1="188.06" x2="751.36" y2="188.06"/>
<line x1="751.36" y1="188.06" x2="754.18" y2="188.06"/>
<line x1="754.18" y1="188.06" x2="757.01" y2="188.06"/>
<line x1="757.01" y1="188.06" x2="759.84" y2="188.06"/>
<line x1="759.84" y1="188.06" x2="762.67" y2="188.06"/>
<line x1="762.67" y1="188.06" x2="765.49" y2="188.06"/>
<line x1="765.49" y1="188.06" x2="768.32" y2="188.06"/>
<line x1="768.32" y1="188.06" x2="771.15" y2="188.06"/>
<line x1="771.15" y1="188.06" x2="773.98" y2="188.06"/>
<line x1="773.98" y1="188.06" x2="776.80" y2="188.06"/>
<line x1="776.80" y1="188.06" x2="779.63" y2="188.06"/>
<line x1="779.63" y1="188.06" x2="782.46" y2="188.06"/>
<line x1="782.46" y1="188.06" x2="785.29" y2="188.06"/>
<line x1="785.29" y1="188.06" x2="788.11" y2="188.06"/>
</g>
<g stroke="#5555ff" stroke-opacity=".67">
<line x1="67.10" y1="180.50" x2="69.93" y2="180.50"/>
<line x1="69.93" y1="180.50" x2="72.75" y2="180.50"/>
<line x1="72.75" y1="180.50" x2="75.58" y2="180.50"/>
<line x1="75.58" y1="180.50" x2="78.41" y2="180.50"/>
<line x1="78.41" y1="180.50" x2="81.24" y2="180.50"/>
<line x1="81.24" y1="180.50" x2="84.06" y2="180.50"/>
<line x1="84.06" y1="180.50" x2="86.89" y2="180.50"/>
<line x1="86.89" y1="180.50" x2="89.72" y2="180.50"/>
<line x1="89.72" y1="180.50" x2="92.55" y2="180.50"/>
<line x1="92.55" y1="180.50" x2="95.38" y2="180.50"/>
<line x1="95.38" y1="180.50" x2="98.20" y2="180.50"/>
<line x1="98.20" y1="180.50" x2="101.03" y2="180.50"/>
<line x1="101.03" y1="180.50" x2="103.86" y2="180.50"/>
<line x1="103.86" y1="180.50" x2="106.69" y2="180.50"/>
<line x1="106.69" y1="180.50" x2="109.51" y2="180.50"/>
<line x1="109.51" y1="180.50" x2="112.34" y2="180.50"/>
<line x1="112.34" y1="180.50" x2="115.17" y2="180.50"/>
<line x1="115.17" y1="180.50" x2="118.00" y2="180.50"/>
<line x1="118.00" y1="180.50" x2="120.82" y2="180.50"/>
<line x1="120.82" y1="180.50" x2="123.65" y2="180.50"/>
<line x1="123.65" y1="180.50" x2="126.48" y2="180.50"/>
<line x1="126.48" y1="180.50" x2="129.31" y2="180.50"/>
<line x1="129.31" y1="180.50" x2="132.13" y2="180.50"/>
<line x1="132.13" y1="180.50" x2="134.96" y2="180.50"/>
<line x1="134.96" y1="180.50" x2="137.79" y2="180.50"/>
<line x1="137.79" y1="180.50" x2="140.62" y2="180.50"/>
<line x1="140.62" y1="180.50" x2="143.44" y2="180.50"/>
<line x1="143.44" y1="180.50" x2="146.27" y2="184.30"/>
<line x1="146.27" y1="184.30" x2="149.10" y2="180.50"/>
<line x1="149.10" y1="180.50" x2="151.93" y2="180.50"/>
<line x1="151.93" y1="180.50" x2="154.75" y2="185.20"/>
<line x1="154.75" y1="185.20" x2="157.58" y2="180.50"/>
<line x1="157.58" y1="180.50" x2="160.41" y2="180.50"/>
<line x1="160.41" y1="180.50" x2="163.24" y2="183.20"/>
<line x1="163.24" y1="183.20" x2="166.06" y2="182.50"/>
<line x1="166.06" y1="182.50" x2="168.89" y2="184.00"/>
<line x1="168.89" y1="184.00" x2="171.72" y2="183.20"/>
<line x1="171.72" y1="183.20" x2="174.55" y2="182.50"/>
<line x1="174.55" y1="182.50" x2="177.37" y2="182.50"/>
<line x1="177.37" y1="182.50" x2="180.20" y2="180.50"/>
<line x1="180.20" y1="180.50" x2="183.03" y2="180.30"/>
<line x1="183.03" y1="180.30" x2="185.86" y2="181.20"/>
<line x1="185.86" y1="181.20" x2="188.68" y2="180.50"/>
<line x1="188.68" y1="180.50" x2="191.51" y2="179.80"/>
<line x1="191.51" y1="179.80" x2="194.34" y2="180.30"/>
<line x1="194.34" y1="180.30" x2="197.16" y2="180.50"/>
<line x1="197.16" y1="180.50" x2="199.99" y2="181.20"/>
<line x1="199.99" y1="181.20" x2="202.82" y2="179.50"/>
<line x1="202.82" y1="179.50" x2="205.65" y2="179.20"/>
<line x1="205.65" y1="179.20" x2="208.47" y2="181.00"/>
<line x1="208.47" y1="181.00" x2="211.30" y2="182.50"/>
<line x1="211.30" y1="182.50" x2="214.13" y2="176.50"/>
<line x1="214.13" y1="176.50" x2="216.96" y2="179.20"/>
<line x1="216.96" y1="179.20" x2="219.78" y2="177.80"/>
<line x1="219.78" y1="177.80" x2="222.61" y2="179.00"/>
<line x1="222.61" y1="179.00" x2="225.44" y2="181.20"/>
<line x1="225.44" y1="181.20" x2="228.27" y2="177.20"/>
<line x1="228.27" y1="177.20" x2="231.09" y2="182.20"/>
<line x1="231.09" y1="182.20" x2="233.92" y2="179.50"/>
<line x1="233.92" y1="179.50" x2="236.75" y2="179.00"/>
<line x1="236.75" y1="179.00" x2="239.58" y2="183.20"/>
<line x1="239.58" y1="183.20" x2="242.41" y2="182.00"/>
<line x1="242.41" y1="182.00" x2="245.23" y2="180.30"/>
<line x1="245.23" y1="180.30" x2="248.06" y2="192.20"/>
<line x1="248.06" y1="192.20" x2="250.89" y2="188.50"/>
<line x1="250.89" y1="188.50" x2="253.72" y2="184.50"/>
<line x1="253.72" y1="184.50" x2="256.54" y2="180.50"/>
<line x1="256.54" y1="180.50" x2="259.37" y2="182.50"/>
<line x1="259.37" y1="182.50" x2="262.20" y2="181.20"/>
<line x1="262.20" y1="181.20" x2="265.02" y2="180.50"/>
<line x1="265.02" y1="180.50" x2="267.85" y2="178.50"/>
<line x1="267.85" y1="178.50" x2="270.68" y2="180.50"/>
<line x1="270.68" y1="180.50" x2="273.51" y2="182.00"/>
<line x1="273.51" y1="182.00" x2="276.34" y2="180.30"/>
<line x1="276.34" y1="180.30" x2="279.16" y2="180.00"/>
<line x1="279.16" y1="180.00" x2="281.99" y2="181.20"/>
<line x1="281.99" y1="181.20" x2="284.82" y2="180.50"/>
<line x1="284.82" y1="180.50" x2="287.64" y2="179.50"/>
<line x1="287.64" y1="179.50" x2="290.47" y2="179.70"/>
<line x1="290.47" y1="179.70" x2="293.30" y2="180.30"/>
<line x1="293.30" y1="180.30" x2="296.13" y2="180.50"/>
<line x1="296.13" y1="180.50" x2="298.96" y2="179.80"/>
<line x1="298.96" y1="179.80" x2="301.78" y2="180.30"/>
<line x1="301.78" y1="180.30" x2="304.61" y2="181.20"/>
<line x1="304.61" y1="181.20" x2="307.44" y2="180.30"/>
<line x1="307.44" y1="180.30" x2="310.26" y2="182.50"/>
<line x1="310.26" y1="182.50" x2="313.09" y2="178.50"/>
<line x1="313.09" y1="178.50" x2="315.92" y2="180.50"/>
<line x1="315.92" y1="180.50" x2="318.75" y2="179.50"/>
<line x1="318.75" y1="179.50" x2="321.58" y2="179.00"/>
<line x1="321.58" y1="179.00" x2="324.40" y2="177.80"/>
<line x1="324.40" y1="177.80" x2="327.23" y2="180.00"/>
<line x1="327.23" y1="180.00" x2="330.06" y2="181.00"/>
<line x1="330.06" y1="181.00" x2="332.88" y2="180.30"/>
<line x1="332.88" y1="180.30" x2="335.71" y2="179.20"/>
<line x1="335.71" y1="179.20" x2="338.54" y2="183.70"/>
<line x1="338.54" y1="183.70" x2="341.37" y2="179.80"/>
<line x1="341.37" y1="179.80" x2="344.20" y2="181.50"/>
<line x1="344.20" y1="181.50" x2="347.02" y2="183.50"/>
<line x1="347.02" y1="183.50" x2="349.85" y2="182.80"/>
<line x1="349.85" y1="182.80" x2="352.68" y2="180.50"/>
<line x1="352.68" y1="180.50" x2="355.50" y2="180.30"/>
<line x1="355.50" y1="180.30" x2="358.33" y2="181.80"/>
<line x1="358.33" y1="181.80" x2="361.16" y2="184.20"/>
<line x1="361.16" y1="184.20" x2="363.99" y2="179.80"/>
<line x1="363.99" y1="179.80" x2="366.82" y2="179.50"/>
<line x1="366.82" y1="179.50" x2="369.64" y2="180.30"/>
<line x1="369.64" y1="180.30" x2="372.47" y2="183.50"/>
<line x1="372.47" y1="183.50" x2="375.30" y2="182.20"/>
<line x1="375.30" y1="182.20" x2="378.12" y2="178.80"/>
<line x1="378.12" y1="178.80" x2="380.95" y2="179.00"/>
<line x1="380.95" y1="179.00" x2="383.78" y2="184.30"/>
<line x1="383.78" y1="184.30" x2="386.61" y2="182.20"/>
<line x1="386.61" y1="182.20" x2="389.44" y2="182.80"/>
<line x1="389.44" y1="182.80" x2="392.26" y2="185.30"/>
<line x1="392.26" y1="185.30" x2="395.09" y2="182.00"/>
<line x1="395.09" y1="182.00" x2="397.92" y2="180.30"/>
<line x1="397.92" y1="180.30" x2="400.75" y2="181.50"/>
<line x1="400.75" y1="181.50" x2="403.57" y2="187.00"/>
<line x1="403.57" y1="187.00" x2="406.40" y2="186.50"/>
<line x1="406.40" y1="186.50" x2="409.23" y2="193.50"/>
<line x1="409.23" y1="193.50" x2="412.06" y2="189.00"/>
<line x1="412.06" y1="189.00" x2="414.88" y2="184.50"/>
<line x1="414.88" y1="184.50" x2="417.71" y2="180.30"/>
<line x1="417.71" y1="180.30" x2="420.54" y2="180.80"/>
<line x1="420.54" y1="180.80" x2="423.37" y2="182.50"/>
<line x1="423.37" y1="182.50" x2="426.19" y2="179.50"/>
<line x1="426.19" y1="179.50" x2="429.02" y2="176.50"/>
<line x1="429.02" y1="176.50" x2="431.85" y2="180.00"/>
<line x1="431.85" y1="180.00" x2="434.67" y2="183.50"/>
<line x1="434.67" y1="183.50" x2="437.50" y2="179.50"/>
<line x1="437.50" y1="179.50" x2="440.33" y2="182.20"/>
<line x1="440.33" y1="182.20" x2="443.16" y2="181.50"/>
<line x1="443.16" y1="181.50" x2="445.99" y2="187.00"/>
<line x1="445.99" y1="187.00" x2="448.81" y2="195.50"/>
<line x1="448.81" y1="195.50" x2="451.64" y2="191.62"/>
<line x1="451.64" y1="191.62" x2="454.47" y2="187.75"/>
<line x1="454.47" y1="187.75" x2="457.29" y2="183.88"/>
<line x1="457.29" y1="183.88" x2="460.12" y2="180.00"/>
<line x1="460.12" y1="180.00" x2="462.95" y2="180.35"/>
<line x1="462.95" y1="180.35" x2="465.78" y2="180.80"/>
<line x1="465.78" y1="180.80" x2="468.61" y2="180.40"/>
<line x1="468.61" y1="180.40" x2="471.43" y2="180.50"/>
<line x1="471.43" y1="180.50" x2="474.26" y2="180.15"/>
<line x1="474.26" y1="180.15" x2="477.09" y2="180.90"/>
<line x1="477.09" y1="180.90" x2="479.91" y2="180.50"/>
<line x1="479.91" y1="180.50" x2="482.74" y2="180.90"/>
<line x1="482.74" y1="180.90" x2="485.57" y2="180.50"/>
<line x1="485.57" y1="180.50" x2="488.40" y2="180.40"/>
<line x1="488.40" y1="180.40" x2="491.23" y2="180.80"/>
<line x1="491.23" y1="180.80" x2="494.05" y2="180.15"/>
<line x1="494.05" y1="180.15" x2="496.88" y2="180.40"/>
<line x1="496.88" y1="180.40" x2="499.71" y2="180.40"/>
<line x1="499.71" y1="180.40" x2="502.53" y2="180.25"/>
<line x1="502.53" y1="180.25" x2="505.36" y2="180.50"/>
<line x1="505.36" y1="180.50" x2="508.19" y2="180.40"/>
<line x1="508.19" y1="180.40" x2="511.02" y2="180.50"/>
<line x1="511.02" y1="180.50" x2="513.85" y2="180.80"/>
<line x1="513.85" y1="180.80" x2="516.67" y2="180.90"/>
<line x1="516.67" y1="180.90" x2="519.50" y2="180.15"/>
<line x1="519.50" y1="180.15" x2="522.33" y2="180.90"/>
<line x1="522.33" y1="180.90" x2="525.15" y2="180.40"/>
<line x1="525.15" y1="180.40" x2="527.98" y2="180.15"/>
<line x1="527.98" y1="180.15" x2="530.81" y2="180.35"/>
<line x1="530.81" y1="180.35" x2="533.64" y2="180.90"/>
<line x1="533.64" y1="180.90" x2="536.47" y2="180.15"/>
<line x1="536.47" y1="180.15" x2="539.29" y2="180.15"/>
<line x1="539.29" y1="180.15" x2="542.12" y2="180.10"/>
<line x1="542.12" y1="180.10" x2="544.95" y2="180.80"/>
<line x1="544.95" y1="180.80" x2="547.77" y2="180.10"/>
<line x1="547.77" y1="180.10" x2="550.60" y2="180.20"/>
<line x1="550.60" y1="180.20" x2="553.43" y2="180.65"/>
<line x1="553.43" y1="180.65" x2="556.26" y2="180.50"/>
<line x1="556.26" y1="180.50" x2="559.09" y2="180.40"/>
<line x1="559.09" y1="180.40" x2="561.91" y2="180.55"/>
<line x1="561.91" y1="180.55" x2="564.74" y2="180.20"/>
<line x1="564.74" y1="180.20" x2="567.57" y2="180.20"/>
<line x1="567.57" y1="180.20" x2="570.39" y2="180.15"/>
<line x1="570.39" y1="180.15" x2="573.22" y2="180.40"/>
<line x1="573.22" y1="180.40" x2="576.05" y2="180.80"/>
<line x1="576.05" y1="180.80" x2="578.88" y2="180.35"/>
<line x1="578.88" y1="180.35" x2="581.71" y2="180.30"/>
<line x1="581.71" y1="180.30" x2="584.53" y2="180.50"/>
<line x1="584.53" y1="180.50" x2="587.36" y2="180.80"/>
<line x1="587.36" y1="180.80" x2="590.19" y2="180.35"/>
<line x1="590.19" y1="180.35" x2="593.02" y2="180.25"/>
<line x1="593.02" y1="180.25" x2="595.84" y2="180.10"/>
<line x1="595.84" y1="180.10" x2="598.67" y2="180.20"/>
<line x1="598.67" y1="180.20" x2="601.50" y2="180.50"/>
<line x1="601.50" y1="180.50" x2="604.33" y2="180.20"/>
<line x1="604.33" y1="180.20" x2="607.15" y2="180.50"/>
<line x1="607.15" y1="180.50" x2="609.98" y2="180.25"/>
<line x1="609.98" y1="180.25" x2="612.81" y2="180.75"/>
<line x1="612.81" y1="180.75" x2="615.63" y2="180.35"/>
<line x1="615.63" y1="180.35" x2="618.46" y2="180.20"/>
<line x1="618.46" y1="180.20" x2="621.29" y2="180.40"/>
<line x1="621.29" y1="180.40" x2="624.12" y2="180.60"/>
<line x1="624.12" y1="180.60" x2="626.95" y2="180.50"/>
<line x1="626.95" y1="180.50" x2="629.77" y2="180.65"/>
<line x1="629.77" y1="180.65" x2="632.60" y2="180.60"/>
<line x1="632.60" y1="180.60" x2="635.43" y2="180.90"/>
<line x1="635.43" y1="180.90" x2="638.25" y2="180.50"/>
<line x1="638.25" y1="180.50" x2="641.08" y2="180.30"/>
<line x1="641.08" y1="180.30" x2="643.91" y2="180.90"/>
<line x1="643.91" y1="180.90" x2="646.74" y2="180.60"/>
<line x1="646.74" y1="180.60" x2="649.57" y2="180.90"/>
<line x1="649.57" y1="180.90" x2="652.39" y2="180.80"/>
<line x1="652.39" y1="180.80" x2="655.22" y2="180.80"/>
<line x1="655.22" y1="180.80" x2="658.05" y2="180.50"/>
<line x1="658.05" y1="180.50" x2="660.88" y2="180.50"/>
<line x1="660.88" y1="180.50" x2="663.70" y2="180.50"/>
<line x1="663.70" y1="180.50" x2="666.53" y2="180.60"/>
<line x1="666.53" y1="180.60" x2="669.36" y2="180.15"/>
<line x1="669.36" y1="180.15" x2="672.19" y2="180.65"/>
<line x1="672.19" y1="180.65" x2="675.01" y2="180.50"/>
<line x1="675.01" y1="180.50" x2="677.84" y2="180.70"/>
<line x1="677.84" y1="180.70" x2="680.67" y2="180.25"/>
<line x1="680.67" y1="180.25" x2="683.50" y2="180.15"/>
<line x1="683.50" y1="180.15" x2="686.32" y2="180.40"/>
<line x1="686.32" y1="180.40" x2="689.15" y2="180.15"/>
<line x1="689.15" y1="180.15" x2="691.98" y2="180.10"/>
<line x1="691.98" y1="180.10" x2="694.81" y2="180.90"/>
<line x1="694.81" y1="180.90" x2="697.63" y2="180.90"/>
<line x1="697.63" y1="180.90" x2="700.46" y2="180.60"/>
<line x1="700.46" y1="180.60" x2="703.29" y2="180.80"/>
<line x1="703.29" y1="180.80" x2="706.12" y2="180.50"/>
<line x1="706.12" y1="180.50" x2="708.94" y2="180.60"/>
<line x1="708.94" y1="180.60" x2="711.77" y2="180.50"/>
<line x1="711.77" y1="180.50" x2="714.60" y2="180.25"/>
<line x1="714.60" y1="180.25" x2="717.43" y2="181.50"/>
<line x1="717.43" y1="181.50" x2="720.25" y2="184.00"/>
<line x1="720.25" y1="184.00" x2="723.08" y2="181.20"/>
<line x1="723.08" y1="181.20" x2="725.91" y2="181.20"/>
<line x1="725.91" y1="181.20" x2="728.74" y2="186.00"/>
<line x1="728.74" y1="186.00" x2="731.56" y2="196.50"/>
<line x1="731.56" y1="196.50" x2="734.39" y2="179.40"/>
<line x1="734.39" y1="179.40" x2="737.22" y2="190.00"/>
<line x1="737.22" y1="190.00" x2="740.05" y2="191.20"/>
<line x1="740.05" y1="191.20" x2="742.87" y2="187.70"/>
<line x1="742.87" y1="187.70" x2="745.70" y2="184.20"/>
<line x1="745.70" y1="184.20" x2="748.53" y2="180.60"/>
<line x1="748.53" y1="180.60" x2="751.36" y2="181.00"/>
<line x1="751.36" y1="181.00" x2="754.18" y2="181.50"/>
<line x1="754.18" y1="181.50" x2="757.01" y2="181.00"/>
<line x1="757.01" y1="181.00" x2="759.84" y2="179.60"/>
<line x1="759.84" y1="179.60" x2="762.67" y2="180.60"/>
<line x1="762.67" y1="180.60" x2="765.49" y2="181.20"/>
<line x1="765.49" y1="181.20" x2="768.32" y2="180.60"/>
<line x1="768.32" y1="180.60" x2="771.15" y2="179.75"/>
<line x1="771.15" y1="179.75" x2="773.98" y2="179.75"/>
<line x1="773.98" y1="179.75" x2="776.80" y2="187.25"/>
<line x1="776.80" y1="187.25" x2="779.63" y2="185.00"/>
<line x1="779.63" y1="185.00" x2="782.46" y2="183.50"/>
<line x1="782.46" y1="183.50" x2="785.29" y2="181.90"/>
<line x1="785.29" y1="181.90" x2="788.11" y2="180.60"/>
</g>
<g stroke="#ff5555" stroke-opacity=".67">
<line x1="67.10" y1="180.50" x2="69.93" y2="180.50"/>
<line x1="69.93" y1="180.50" x2="72.75" y2="180.50"/>
<line x1="72.75" y1="180.50" x2="75.58" y2="180.50"/>
<line x1="75.58" y1="180.50" x2="78.41" y2="180.50"/>
<line x1="78.41" y1="180.50" x2="81.24" y2="180.50"/>
<line x1="81.24" y1="180.50" x2="84.06" y2="180.50"/>
<line x1="84.06" y1="180.50" x2="86.89" y2="180.50"/>
<line x1="86.89" y1="180.50" x2="89.72" y2="180.50"/>
<line x1="89.72" y1="180.50" x2="92.55" y2="180.50"/>
<line x1="92.55" y1="180.50" x2="95.38" y2="180.50"/>
<line x1="95.38" y1="180.50" x2="98.20" y2="180.50"/>
<line x1="98.20" y1="180.50" x2="101.03" y2="180.50"/>
<line x1="101.03" y1="180.50" x2="103.86" y2="180.50"/>
<line x1="103.86" y1="180.50" x2="106.69" y2="180.50"/>
<line x1="106.69" y1="180.50" x2="109.51" y2="180.50"/>
<line x1="109.51" y1="180.50" x2="112.34" y2="180.50"/>
<line x1="112.34" y1="180.50" x2="115.17" y2="180.50"/>
<line x1="115.17" y1="180.50" x2="118.00" y2="180.50"/>
<line x1="118.00" y1="180.50" x2="120.82" y2="180.50"/>
<line x1="120.82" y1="180.50" x2="123.65" y2="180.50"/>
<line x1="123.65" y1="180.50" x2="126.48" y2="180.50"/>
<line x1="126.48" y1="180.50" x2="129.31" y2="180.50"/>
<line x1="129.31" y1="180.50" x2="132.13" y2="180.50"/>
<line x1="132.13" y1="180.50" x2="134.96" y2="180.50"/>
<line x1="134.96" y1="180.50" x2="137.79" y2="180.50"/>
<line x1="137.79" y1="180.50" x2="140.62" y2="180.50"/>
<line x1="140.62" y1="180.50" x2="143.44" y2="180.50"/>
<line x1="143.44" y1="180.50" x2="146.27" y2="180.50"/>
<line x1="146.27" y1="180.50" x2="149.10" y2="180.50"/>
<line x1="149.10" y1="180.50" x2="151.93" y2="180.50"/>
<line x1="151.93" y1="180.50" x2="154.75" y2="180.50"/>
<line x1="154.75" y1="180.50" x2="157.58" y2="180.50"/>
<line x1="157.58" y1="180.50" x2="160.41" y2="177.50"/>
<line x1="160.41" y1="177.50" x2="163.24" y2="180.00"/>
<line x1="163.24" y1="180.00" x2="166.06" y2="178.50"/>
<line x1="166.06" y1="178.50" x2="168.89" y2="180.30"/>
<line x1="168.89" y1="180.30" x2="171.72" y2="180.30"/>
<line x1="171.72" y1="180.30" x2="174.55" y2="179.20"/>
<line x1="174.55" y1="179.20" x2="177.37" y2="181.50"/>
<line x1="177.37" y1="181.50" x2="180.20" y2="180.30"/>
<line x1="180.20" y1="180.30" x2="183.03" y2="180.30"/>
<line x1="183.03" y1="180.30" x2="185.86" y2="181.20"/>
<line x1="185.86" y1="181.20" x2="188.68" y2="180.50"/>
<line x1="188.68" y1="180.50" x2="191.51" y2="179.80"/>
<line x1="191.51" y1="179.80" x2="194.34" y2="180.30"/>
<line x1="194.34" y1="180.30" x2="197.16" y2="180.50"/>
<line x1="197.16" y1="180.50" x2="199.99" y2="181.20"/>
<line x1="199.99" y1="181.20" x2="202.82" y2="179.50"/>
<line x1="202.82" y1="179.50" x2="205.65" y2="179.20"/>
<line x1="205.65" y1="179.20" x2="208.47" y2="181.00"/>
<line x1="208.47" y1="181.00" x2="211.30" y2="182.50"/>
<line x1="211.30" y1="182.50" x2="214.13" y2="176.50"/>
<line x1="214.13" y1="176.50" x2="216.96" y2="179.20"/>
<line x1="216.96" y1="179.20" x2="219.78" y2="177.80"/>
<line x1="219.78" y1="177.80" x2="222.61" y2="179.00"/>
<line x1="222.61" y1="179.00" x2="225.44" y2="181.20"/>
<line x1="225.44" y1="181.20" x2="228.27" y2="177.20"/>
<line x1="228.27" y1="177.20" x2="231.09" y2="182.20"/>
<line x1="231.09" y1="182.20" x2="233.92" y2="179.50"/>
<line x1="233.92" y1="179.50" x2="236.75" y2="178.50"/>
<line x1="236.75" y1="178.50" x2="239.58" y2="181.00"/>
<line x1="239.58" y1="181.00" x2="242.41" y2="182.00"/>
<line x1="242.41" y1="182.00" x2="245.23" y2="180.30"/>
<line x1="245.23" y1="180.30" x2="248.06" y2="191.50"/>
<line x1="248.06" y1="191.50" x2="250.89" y2="188.50"/>
<line x1="250.89" y1="188.50" x2="253.72" y2="184.50"/>
<line x1="253.72" y1="184.50" x2="256.54" y2="180.50"/>
<line x1="256.54" y1="180.50" x2="259.37" y2="179.50"/>
<line x1="259.37" y1="179.50" x2="262.20" y2="181.20"/>
<line x1="262.20" y1="181.20" x2="265.02" y2="180.50"/>
<line x1="265.02" y1="180.50" x2="267.85" y2="178.50"/>
<line x1="267.85" y1="178.50" x2="270.68" y2="180.50"/>
<line x1="270.68" y1="180.50" x2="273.51" y2="182.00"/>
<line x1="273.51" y1="182.00" x2="276.34" y2="180.30"/>
<line x1="276.34" y1="180.30" x2="279.16" y2="180.00"/>
<line x1="279.16" y1="180.00" x2="281.99" y2="181.20"/>
<line x1="281.99" y1="181.20" x2="284.82" y2="180.50"/>
<line x1="284.82" y1="180.50" x2="287.64" y2="179.50"/>
<line x1="287.64" y1="179.50" x2="290.47" y2="179.70"/>
<line x1="290.47" y1="179.70" x2="293.30" y2="180.30"/>
<line x1="293.30" y1="180.30" x2="296.13" y2="180.50"/>
<line x1="296.13" y1="180.50" x2="298.96" y2="179.80"/>
<line x1="298.96" y1="179.80" x2="301.78" y2="180.30"/>
<line x1="301.78" y1="180.30" x2="304.61" y2="181.20"/>
<line x1="304.61" y1="181.20" x2="307.44" y2="180.30"/>
<line x1="307.44" y1="180.30" x2="310.26" y2="182.50"/>
<line x1="310.26" y1="182.50" x2="313.09" y2="178.50"/>
<line x1="313.09" y1="178.50" x2="315.92" y2="181.20"/>
<line x1="315.92" y1="181.20" x2="318.75" y2="180.00"/>
<line x1="318.75" y1="180.00" x2="321.58" y2="180.00"/>
<line x1="321.58" y1="180.00" x2="324.40" y2="180.50"/>
<line x1="324.40" y1="180.50" x2="327.23" y2="180.30"/>
<line x1="327.23" y1="180.30" x2="330.06" y2="178.80"/>
<line x1="330.06" y1="178.80" x2="332.88" y2="180.00"/>
<line x1="332.88" y1="180.00" x2="335.71" y2="181.00"/>
<line x1="335.71" y1="181.00" x2="338.54" y2="180.50"/>
<line x1="338.54" y1="180.50" x2="341.37" y2="179.30"/>
<line x1="341.37" y1="179.30" x2="344.20" y2="180.50"/>
<line x1="344.20" y1="180.50" x2="347.02" y2="181.50"/>
<line x1="347.02" y1="181.50" x2="349.85" y2="182.00"/>
<line x1="349.85" y1="182.00" x2="352.68" y2="180.50"/>
<line x1="352.68" y1="180.50" x2="355.50" y2="180.30"/>
<line x1="355.50" y1="180.30" x2="358.33" y2="181.00"/>
<line x1="358.33" y1="181.00" x2="361.16" y2="181.50"/>
<line x1="361.16" y1="181.50" x2="363.99" y2="179.80"/>
<line x1="363.99" y1="179.80" x2="366.82" y2="179.30"/>
<line x1="366.82" y1="179.30" x2="369.64" y2="179.70"/>
<line x1="369.64" y1="179.70" x2="372.47" y2="180.80"/>
<line x1="372.47" y1="180.80" x2="375.30" y2="180.50"/>
<line x1="375.30" y1="180.50" x2="378.12" y2="178.50"/>
<line x1="378.12" y1="178.50" x2="380.95" y2="179.50"/>
<line x1="380.95" y1="179.50" x2="383.78" y2="181.50"/>
<line x1="383.78" y1="181.50" x2="386.61" y2="180.00"/>
<line x1="386.61" y1="180.00" x2="389.44" y2="180.70"/>
<line x1="389.44" y1="180.70" x2="392.26" y2="181.20"/>
<line x1="392.26" y1="181.20" x2="395.09" y2="180.80"/>
<line x1="395.09" y1="180.80" x2="397.92" y2="180.00"/>
<line x1="397.92" y1="180.00" x2="400.75" y2="180.50"/>
<line x1="400.75" y1="180.50" x2="403.57" y2="185.00"/>
<line x1="403.57" y1="185.00" x2="406.40" y2="182.50"/>
<line x1="406.40" y1="182.50" x2="409.23" y2="193.50"/>
<line x1="409.23" y1="193.50" x2="412.06" y2="189.00"/>
<line x1="412.06" y1="189.00" x2="414.88" y2="184.50"/>
<line x1="414.88" y1="184.50" x2="417.71" y2="180.30"/>
<line x1="417.71" y1="180.30" x2="420.54" y2="180.80"/>
<line x1="420.54" y1="180.80" x2="423.37" y2="182.50"/>
<line x1="423.37" y1="182.50" x2="426.19" y2="180.00"/>
<line x1="426.19" y1="180.00" x2="429.02" y2="178.50"/>
<line x1="429.02" y1="178.50" x2="431.85" y2="179.50"/>
<line x1="431.85" y1="179.50" x2="434.67" y2="181.50"/>
<line x1="434.67" y1="181.50" x2="437.50" y2="180.50"/>
<line x1="437.50" y1="180.50" x2="440.33" y2="182.00"/>
<line x1="440.33" y1="182.00" x2="443.16" y2="181.00"/>
<line x1="443.16" y1="181.00" x2="445.99" y2="183.50"/>
<line x1="445.99" y1="183.50" x2="448.81" y2="198.50"/>
<line x1="448.81" y1="198.50" x2="451.64" y2="193.88"/>
<line x1="451.64" y1="193.88" x2="454.47" y2="189.25"/>
<line x1="454.47" y1="189.25" x2="457.29" y2="184.62"/>
<line x1="457.29" y1="184.62" x2="460.12" y2="180.00"/>
<line x1="460.12" y1="180.00" x2="462.95" y2="180.35"/>
<line x1="462.95" y1="180.35" x2="465.78" y2="180.80"/>
<line x1="465.78" y1="180.80" x2="468.61" y2="180.50"/>
<line x1="468.61" y1="180.50" x2="471.43" y2="180.50"/>
<line x1="471.43" y1="180.50" x2="474.26" y2="180.15"/>
<line x1="474.26" y1="180.15" x2="477.09" y2="180.90"/>
<line x1="477.09" y1="180.90" x2="479.91" y2="180.50"/>
<line x1="479.91" y1="180.50" x2="482.74" y2="180.80"/>
<line x1="482.74" y1="180.80" x2="485.57" y2="180.50"/>
<line x1="485.57" y1="180.50" x2="488.40" y2="180.50"/>
<line x1="488.40" y1="180.50" x2="491.23" y2="180.80"/>
<line x1="491.23" y1="180.80" x2="494.05" y2="180.15"/>
<line x1="494.05" y1="180.15" x2="496.88" y2="180.50"/>
<line x1="496.88" y1="180.50" x2="499.71" y2="180.50"/>
<line x1="499.71" y1="180.50" x2="502.53" y2="180.15"/>
<line x1="502.53" y1="180.15" x2="505.36" y2="180.50"/>
<line x1="505.36" y1="180.50" x2="508.19" y2="180.50"/>
<line x1="508.19" y1="180.50" x2="511.02" y2="180.50"/>
<line x1="511.02" y1="180.50" x2="513.85" y2="180.80"/>
<line x1="513.85" y1="180.80" x2="516.67" y2="180.90"/>
<line x1="516.67" y1="180.90" x2="519.50" y2="180.15"/>
<line x1="519.50" y1="180.15" x2="522.33" y2="180.90"/>
<line x1="522.33" y1="180.90" x2="525.15" y2="180.50"/>
<line x1="525.15" y1="180.50" x2="527.98" y2="180.15"/>
<line x1="527.98" y1="180.15" x2="530.81" y2="180.35"/>
<line x1="530.81" y1="180.35" x2="533.64" y2="180.90"/>
<line x1="533.64" y1="180.90" x2="536.47" y2="180.15"/>
<line x1="536.47" y1="180.15" x2="539.29" y2="180.15"/>
<line x1="539.29" y1="180.15" x2="542.12" y2="180.20"/>
<line x1="542.12" y1="180.20" x2="544.95" y2="180.80"/>
<line x1="544.95" y1="180.80" x2="547.77" y2="180.20"/>
<line x1="547.77" y1="180.20" x2="550.60" y2="180.20"/>
<line x1="550.60" y1="180.20" x2="553.43" y2="180.65"/>
<line x1="553.43" y1="180.65" x2="556.26" y2="180.50"/>
<line x1="556.26" y1="180.50" x2="559.09" y2="180.50"/>
<line x1="559.09" y1="180.50" x2="561.91" y2="180.65"/>
<line x1="561.91" y1="180.65" x2="564.74" y2="180.20"/>
<line x1="564.74" y1="180.20" x2="567.57" y2="180.20"/>
<line x1="567.57" y1="180.20" x2="570.39" y2="180.15"/>
<line x1="570.39" y1="180.15" x2="573.22" y2="180.50"/>
<line x1="573.22" y1="180.50" x2="576.05" y2="180.80"/>
<line x1="576.05" y1="180.80" x2="578.88" y2="180.35"/>
<line x1="578.88" y1="180.35" x2="581.71" y2="180.20"/>
<line x1="581.71" y1="180.20" x2="584.53" y2="180.50"/>
<line x1="584.53" y1="180.50" x2="587.36" y2="180.90"/>
<line x1="587.36" y1="180.90" x2="590.19" y2="180.35"/>
<line x1="590.19" y1="180.35" x2="593.02" y2="180.35"/>
<line x1="593.02" y1="180.35" x2="595.84" y2="180.20"/>
<line x1="595.84" y1="180.20" x2="598.67" y2="180.20"/>
<line x1="598.67" y1="180.20" x2="601.50" y2="180.50"/>
<line x1="601.50" y1="180.50" x2="604.33" y2="180.20"/>
<line x1="604.33" y1="180.20" x2="607.15" y2="180.50"/>
<line x1="607.15" y1="180.50" x2="609.98" y2="180.15"/>
<line x1="609.98" y1="180.15" x2="612.81" y2="180.65"/>
<line x1="612.81" y1="180.65" x2="615.63" y2="180.35"/>
<line x1="615.63" y1="180.35" x2="618.46" y2="180.20"/>
<line x1="618.46" y1="180.20" x2="621.29" y2="180.50"/>
<line x1="621.29" y1="180.50" x2="624.12" y2="180.50"/>
<line x1="624.12" y1="180.50" x2="626.95" y2="180.50"/>
<line x1="626.95" y1="180.50" x2="629.77" y2="180.65"/>
<line x1="629.77" y1="180.65" x2="632.60" y2="180.50"/>
<line x1="632.60" y1="180.50" x2="635.43" y2="180.80"/>
<line x1="635.43" y1="180.80" x2="638.25" y2="180.50"/>
<line x1="638.25" y1="180.50" x2="641.08" y2="180.20"/>
<line x1="641.08" y1="180.20" x2="643.91" y2="180.90"/>
<line x1="643.91" y1="180.90" x2="646.74" y2="180.50"/>
<line x1="646.74" y1="180.50" x2="649.57" y2="180.90"/>
<line x1="649.57" y1="180.90" x2="652.39" y2="180.80"/>
<line x1="652.39" y1="180.80" x2="655.22" y2="180.80"/>
<line x1="655.22" y1="180.80" x2="658.05" y2="180.50"/>
<line x1="658.05" y1="180.50" x2="660.88" y2="180.50"/>
<line x1="660.88" y1="180.50" x2="663.70" y2="180.50"/>
<line x1="663.70" y1="180.50" x2="666.53" y2="180.50"/>
<line x1="666.53" y1="180.50" x2="669.36" y2="180.15"/>
<line x1="669.36" y1="180.15" x2="672.19" y2="180.65"/>
<line x1="672.19" y1="180.65" x2="675.01" y2="180.50"/>
<line x1="675.01" y1="180.50" x2="677.84" y2="180.80"/>
<line x1="677.84" y1="180.80" x2="680.67" y2="180.35"/>
<line x1="680.67" y1="180.35" x2="683.50" y2="180.15"/>
<line x1="683.50" y1="180.15" x2="686.32" y2="180.50"/>
<line x1="686.32" y1="180.50" x2="689.15" y2="180.15"/>
<line x1="689.15" y1="180.15" x2="691.98" y2="180.20"/>
<line x1="691.98" y1="180.20" x2="694.81" y2="180.80"/>
<line x1="694.81" y1="180.80" x2="697.63" y2="180.80"/>
<line x1="697.63" y1="180.80" x2="700.46" y2="180.50"/>
<line x1="700.46" y1="180.50" x2="703.29" y2="180.80"/>
<line x1="703.29" y1="180.80" x2="706.12" y2="180.50"/>
<line x1="706.12" y1="180.50" x2="708.94" y2="180.50"/>
<line x1="708.94" y1="180.50" x2="711.77" y2="180.50"/>
<line x1="711.77" y1="180.50" x2="714.60" y2="180.35"/>
<line x1="714.60" y1="180.35" x2="717.43" y2="181.50"/>
<line x1="717.43" y1="181.50" x2="720.25" y2="184.00"/>
<line x1="720.25" y1="184.00" x2="723.08" y2="181.20"/>
<line x1="723.08" y1="181.20" x2="725.91" y2="181.20"/>
<line x1="725.91" y1="181.20" x2="728.74" y2="183.00"/>
<line x1="728.74" y1="183.00" x2="731.56" y2="325.50"/>
<line x1="731.56" y1="325.50" x2="734.39" y2="179.40"/>
<line x1="734.39" y1="179.40" x2="737.22" y2="186.25"/>
<line x1="737.22" y1="186.25" x2="740.05" y2="190.60"/>
<line x1="740.05" y1="190.60" x2="742.87" y2="187.70"/>
<line x1="742.87" y1="187.70" x2="745.70" y2="184.20"/>
<line x1="745.70" y1="184.20" x2="748.53" y2="180.60"/>
<line x1="748.53" y1="180.60" x2="751.36" y2="181.00"/>
<line x1="751.36" y1="181.00" x2="754.18" y2="181.50"/>
<line x1="754.18" y1="181.50" x2="757.01" y2="181.00"/>
<line x1="757.01" y1="181.00" x2="759.84" y2="179.60"/>
<line x1="759.84" y1="179.60" x2="762.67" y2="180.60"/>
<line x1="762.67" y1="180.60" x2="765.49" y2="181.20"/>
<line x1="765.49" y1="181.20" x2="768.32" y2="180.60"/>
<line x1="768.32" y1="180.60" x2="771.15" y2="179.75"/>
<line x1="771.15" y1="179.75" x2="773.98" y2="179.75"/>
<line x1="773.98" y1="179.75" x2="776.80" y2="187.25"/>
<line x1="776.80" y1="187.25" x2="779.63" y2="185.00"/>
<line x1="779.63" y1="185.00" x2="782.46" y2="183.50"/>
<line x1="782.46" y1="183.50" x2="785.29" y2="181.90"/>
<line x1="785.29" y1="181.90" x2="788.11" y2="180.60"/>
</g>
</g>
<rect x="67.5" y="34.5" width="721" height="293" fill="none" stroke="#000" stroke-opacity="0.5" stroke-width="1"/>
<rect x="225.5" y="377.5" width="349" height="21" fill="#fff" stroke="#000" stroke-width="1"/>
<g stroke-width="1" stroke-linecap="square">
<line x1="229.0" y1="388.4" x2="243.0" y2="388.4" stroke="#ff5555" stroke-opacity="0.67"/>
<line x1="307.0" y1="388.4" x2="321.0" y2="388.4" stroke="#5555ff" stroke-opacity="0.67"/>
<line x1="390.0" y1="388.4" x2="404.0" y2="388.4" stroke="#55ff55" stroke-opacity="1"/>
<line x1="481.0" y1="388.4" x2="495.0" y2="388.4" stroke="#55ff55" stroke-opacity="1"/>
</g>
<text class="t" x="247.00" y="391.9" textLength="54.5">Actual IR</text>
<text class="t" x="325.00" y="391.9" textLength="59.5">Actual PR</text>
<text class="t" x="408.00" y="391.9" textLength="67">Low Bound</text>
<text class="t" x="499.00" y="391.9" textLength="72">High Bound</text>
</svg></body></html>
